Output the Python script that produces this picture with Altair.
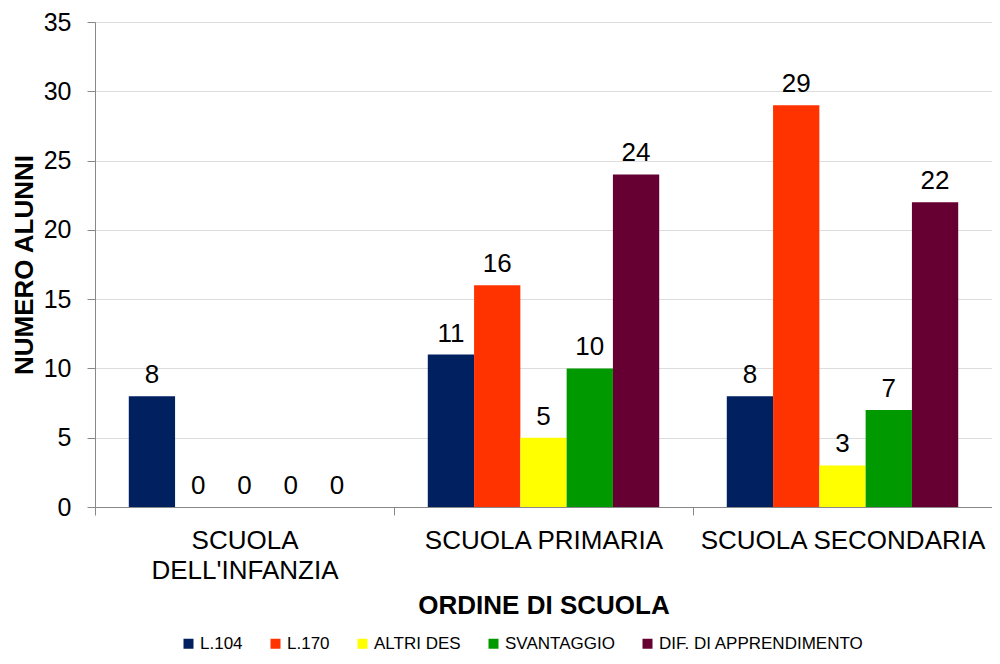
import altair as alt
import pandas as pd

categories = ["SCUOLA DELL'INFANZIA", "SCUOLA PRIMARIA", "SCUOLA SECONDARIA"]
series = ["L.104", "L.170", "ALTRI DES", "SVANTAGGIO", "DIF. DI APPRENDIMENTO"]
l104 = [8, 11, 8]
l170 = [0, 16, 29]
altri_des = [0, 5, 3]
svantaggio = [0, 10, 7]
dif_apprendimento = [0, 24, 22]
colors = ["#002060", "#FF3300", "#FFFF00", "#009900", "#660033"]
y_ticks = [0, 5, 10, 15, 20, 25, 30, 35]

values_by_series = [l104, l170, altri_des, svantaggio, dif_apprendimento]
rows = []
for ci, cat in enumerate(categories):
    for si, s in enumerate(series):
        rows.append({"ordine": cat, "serie": s, "valore": values_by_series[si][ci]})
df = pd.DataFrame(rows)

FONT = "Liberation Sans"
GRID = "#b3b3b3"

base = alt.Chart(df).encode(
    x=alt.X(
        "ordine:N",
        sort=categories,
        scale=alt.Scale(paddingInner=0, paddingOuter=0),
        axis=alt.Axis(
            title="ORDINE DI SCUOLA",
            labelAngle=0,
            labelExpr="datum.value == \"SCUOLA DELL'INFANZIA\" ? [\"SCUOLA\", \"DELL'INFANZIA\"] : datum.label",
            tickBand="extent",
            grid=False,
            tickSize=8,
            labelPadding=12,
            labelFontSize=26,
            labelLineHeight=30,
            labelLimit=0,
            titleFontSize=26,
            titlePadding=9,
        ),
    ),
    xOffset=alt.XOffset(
        "serie:N", sort=series, scale=alt.Scale(domain=series, paddingInner=0, paddingOuter=0.73)
    ),
    y=alt.Y(
        "valore:Q",
        scale=alt.Scale(domain=[0, 35], nice=False),
        axis=alt.Axis(
            values=y_ticks,
            title="NUMERO ALUNNI",
            tickSize=8,
            labelPadding=16,
            labelFontSize=25,
            titleFontSize=26,
            titlePadding=6,
            grid=True,
        ),
    ),
)

bars = base.mark_bar(strokeWidth=0).encode(
    color=alt.Color(
        "serie:N",
        sort=series,
        scale=alt.Scale(domain=series, range=colors),
        legend=alt.Legend(
            title=None,
            orient="none",
            direction="horizontal",
            legendX=85,
            legendY=613,
            symbolType="square",
            symbolSize=100,
            symbolStrokeWidth=0,
            labelFontSize=17,
            labelFont=FONT,
            labelColor="#000000",
            labelOffset=3,
            labelLimit=0,
            columnPadding=24,
        ),
    )
)

labels = base.mark_text(
    baseline="alphabetic", dy=-13, fontSize=26, font=FONT, color="#000000"
).encode(text="valore:Q")

chart = (
    alt.layer(bars, labels)
    .properties(
        width=897,
        height=485,
        autosize=alt.AutoSizeParams(type="none"),
        padding={"left": 87, "top": 14, "right": 0, "bottom": 149},
    )
    .configure_view(stroke=None)
    .configure_axis(
        labelFont=FONT,
        titleFont=FONT,
        labelColor="#000000",
        titleColor="#000000",
        titleFontWeight="bold",
        domainColor=GRID,
        tickColor=GRID,
        gridColor=GRID,
        gridWidth=1,
    )
    .configure(background="white")
)

chart.save("out.html", embed_options={"renderer": "svg", "actions": False})
